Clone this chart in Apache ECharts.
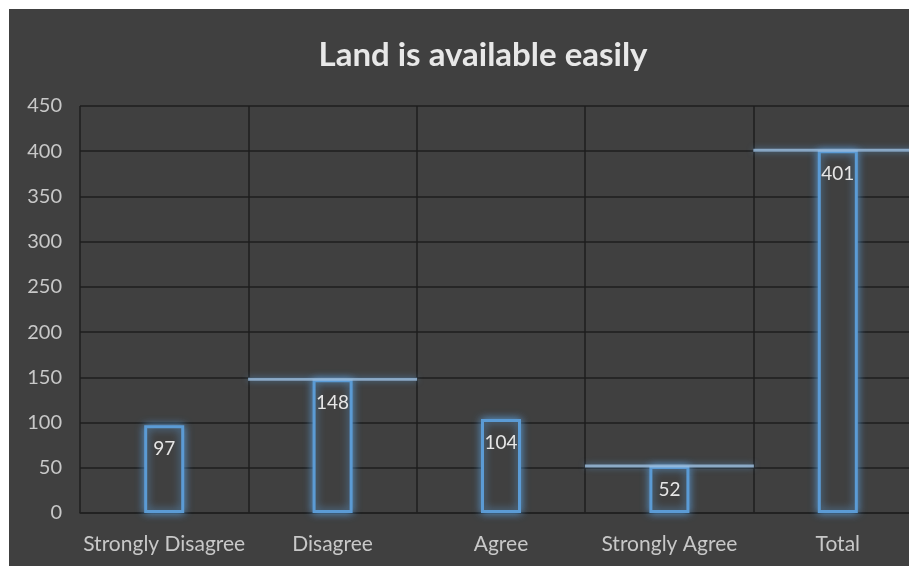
<!DOCTYPE html>
<html>
<head>
<meta charset="utf-8">
<script src="https://cdn.jsdelivr.net/npm/echarts@6/dist/echarts.min.js"></script>
<style>
html,body{margin:0;padding:0;background:#ffffff;width:909px;height:567px;overflow:hidden;}
#chart{position:absolute;left:9px;top:9px;width:913px;height:557px;}
</style>
</head>
<body>
<div id="chart"></div>
<script>
var categories = ['Strongly Disagree', 'Disagree', 'Agree', 'Strongly Agree', 'Total'];
var barValues = [97, 148, 104, 52, 401];
var lineValues = [null, 148, null, 52, 401];
var yTicks = { min: 0, max: 450, interval: 50 };

var chart = echarts.init(document.getElementById('chart'));
var FONT = 'Lato, "Open Sans", sans-serif';
chart.setOption({
  backgroundColor: '#404040',
  animation: false,
  title: {
    text: 'Land is available easily',
    left: 469,
    textAlign: 'center',
    top: 25,
    textStyle: { color: '#e8e8e8', fontSize: 33, fontWeight: 'bold', fontFamily: FONT }
  },
  grid: { left: 71, right: 0, top: 97, bottom: 53 },
  xAxis: {
    type: 'category',
    data: categories,
    axisLine: { lineStyle: { color: '#222222', width: 1.5 } },
    axisTick: { show: false },
    axisLabel: { color: '#c8c8c8', fontSize: 21, fontFamily: FONT, margin: 21, interval: 0 },
    splitLine: { show: true, lineStyle: { color: '#1e1e1e', width: 1.5 } }
  },
  yAxis: {
    type: 'value',
    min: yTicks.min, max: yTicks.max, interval: yTicks.interval,
    axisLine: { show: false },
    axisTick: { show: false },
    axisLabel: { color: '#c8c8c8', fontSize: 20, fontFamily: FONT, margin: 18 },
    splitLine: { lineStyle: { color: '#1e1e1e', width: 1.5 } }
  },
  series: [
    {
      type: 'bar',
      data: barValues,
      barWidth: 40,
      itemStyle: {
        color: '#404040',
        borderColor: '#5b9bd5',
        borderWidth: 3,
        shadowColor: 'rgba(91,155,213,0.9)',
        shadowBlur: 8
      },
      label: {
        show: true,
        position: 'insideTop',
        distance: 14,
        color: '#e6e6e6',
        fontSize: 19,
        fontFamily: FONT
      },
      z: 2
    },
    {
      type: 'scatter',
      data: lineValues,
      symbol: 'rect',
      symbolSize: [169, 3],
      itemStyle: { color: '#9dbfe0', shadowColor: 'rgba(91,155,213,0.8)', shadowBlur: 6 },
      z: 3
    }
  ]
});
</script>
</body>
</html>
